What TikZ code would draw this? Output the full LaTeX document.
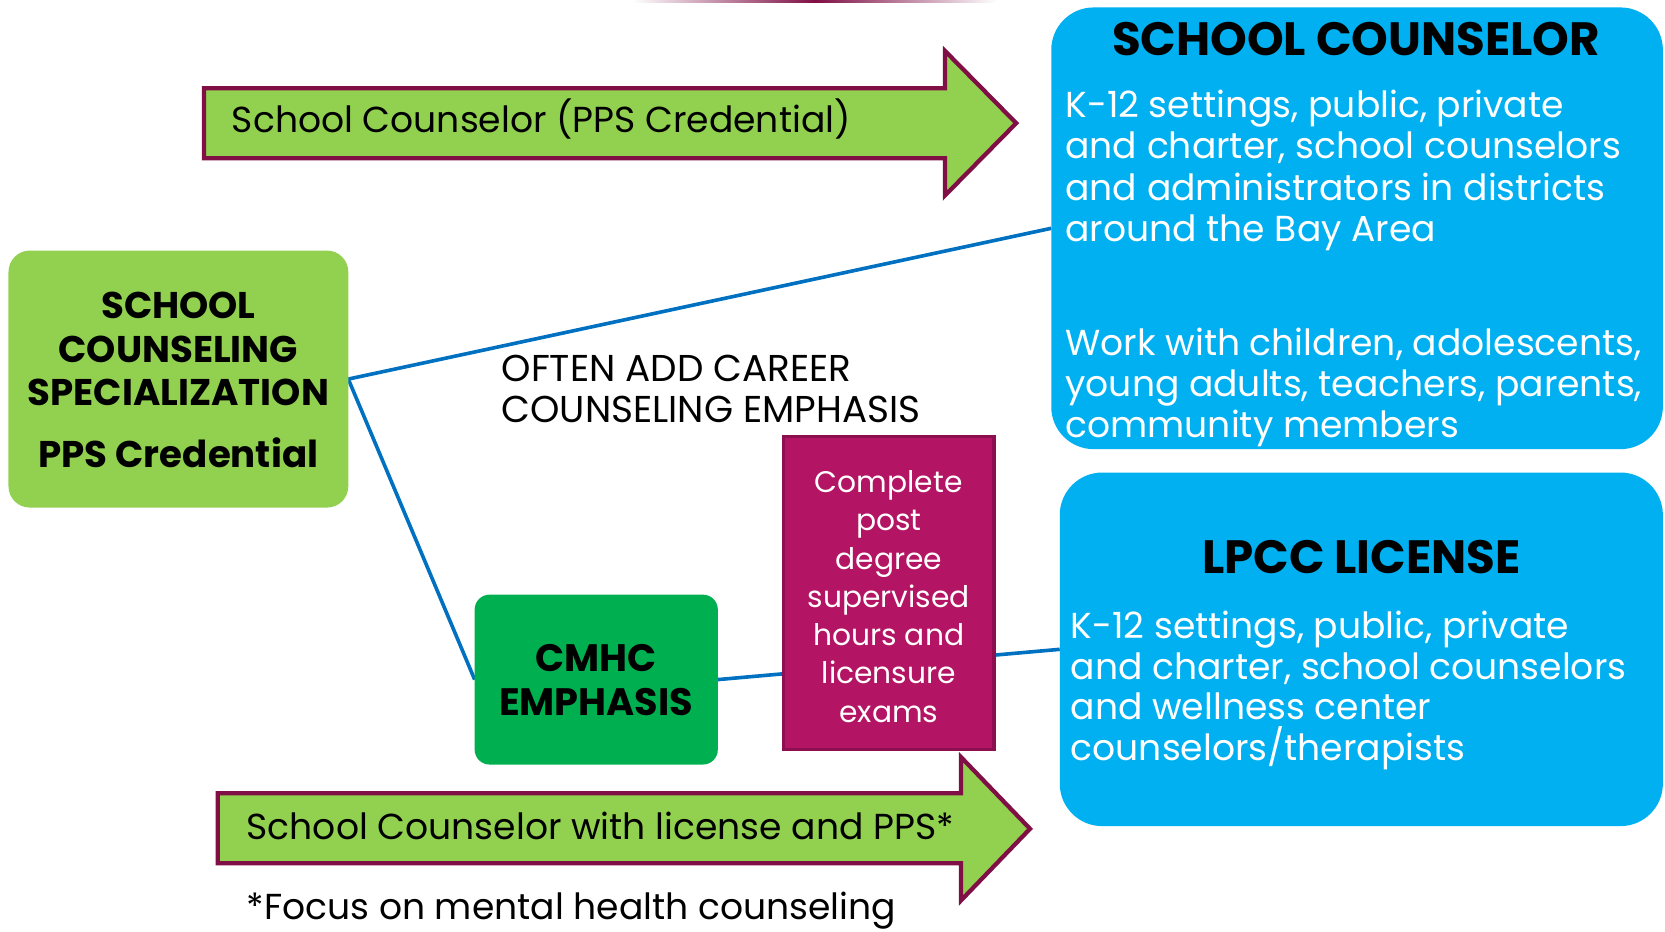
\documentclass[tikz,border=0pt]{standalone}
\usepackage{fontspec}
\setmainfont{Poppins}
\usetikzlibrary{calc}
\definecolor{lgreen}{HTML}{92D050}
\definecolor{dgreen}{HTML}{00B050}
\definecolor{sky}{HTML}{00B0F0}
\definecolor{mag}{HTML}{B41464}
\definecolor{magdark}{HTML}{8E0F4F}
\definecolor{maroon}{HTML}{7F0F45}
\definecolor{lineblue}{HTML}{0070C0}
\pgfdeclarelayer{bg}
\pgfsetlayers{bg,main}
\begin{document}
\begin{tikzpicture}[x=0.5pt,y=-0.5pt,
  box/.style={inner sep=0pt, outer sep=0pt},
  conn/.style={draw=lineblue, line width=1.7pt},
  bigarrow/.style={fill=lgreen, draw=maroon, line width=2pt},
  bodytxt/.style={anchor=base west, inner sep=0pt, text=white, font=\fontsize{17}{20}\selectfont},
  arrtxt/.style={anchor=base west, inner sep=0pt, font=\fontsize{17}{20}\selectfont},
  headtxt/.style={anchor=base, inner sep=0pt, font=\bfseries\fontsize{22}{26}\selectfont},
  lefttxt/.style={anchor=base, inner sep=0pt, font=\bfseries\fontsize{17.5}{21}\selectfont},
  magtxt/.style={anchor=base, inner sep=0pt, text=white, font=\fontsize{14}{17}\selectfont}
]
\useasboundingbox (0,0) rectangle (1568,877);

% top fading line
\shade[left color=white, right color=white, middle color=maroon] (596,0) rectangle (939,2.5);

% boxes
\node[box, fill=lgreen, rounded corners=10pt, minimum width=160pt, minimum height=121pt] (left) at (168,357) {};
\node[box, fill=sky, rounded corners=20pt, minimum width=288pt, minimum height=208pt] (sc) at (1278,215) {};
\node[box, fill=sky, rounded corners=20pt, minimum width=284pt, minimum height=166.5pt] (lpcc) at (1282,611.5) {};
\node[box, fill=dgreen, rounded corners=7pt, minimum width=114.5pt, minimum height=80pt] (cmhc) at (561.5,640) {};
\node[box, fill=mag, draw=magdark, line width=1.5pt, minimum width=99pt, minimum height=147.5pt] (mbox) at (837,558.5) {};

% connectors
\begin{pgfonlayer}{bg}
\draw[conn] (left.east) -- (sc.west);
\draw[conn] (left.east) -- (cmhc.west);
\draw[conn] (cmhc.east) -- (lpcc.west);
\end{pgfonlayer}

% big arrows
\draw[bigarrow] (192,83) -- (890,83) -- (890,48) -- (957,116) -- (890,184) -- (890,149) -- (192,149) -- cycle;
\draw[bigarrow] (205,747) -- (905,747) -- (905,713) -- (970,780.5) -- (905,848) -- (905,813) -- (205,813) -- cycle;
\node[arrtxt] (a1) at (218,125) {School Counselor (PPS Credential)};
\node[arrtxt] (a2) at (232,791) {School Counselor with license and PPS*};
\node[arrtxt] (foot) at (232,866) {*Focus on mental health counseling};

% left box text
\node[lefttxt] (l1) at (168,300) {SCHOOL};
\node[lefttxt] (l2) at (168,341) {COUNSELING};
\node[lefttxt] (l3) at (168,382) {SPECIALIZATION};
\node[lefttxt] (l4) at (168,440) {PPS Credential};

% career text
\node[arrtxt, font=\fontsize{17.6}{20}\selectfont] (c1) at (472,359) {OFTEN ADD CAREER};
\node[arrtxt, font=\fontsize{17.6}{20}\selectfont] (c2) at (472,398) {COUNSELING EMPHASIS};

% CMHC
\node[lefttxt, font=\bfseries\fontsize{18}{21}\selectfont] (m1) at (561.5,632) {CMHC};
\node[lefttxt, font=\bfseries\fontsize{18}{21}\selectfont] (m2) at (561.5,674) {EMPHASIS};

% magenta box text
\foreach \t [count=\i] in {Complete,post,degree,supervised,hours and,licensure,exams}{
  \node[magtxt] (mt\i) at (837,{428+36*\i}) {\t};
}

% school counselor box
\node[headtxt] (sch) at (1277,52) {SCHOOL COUNSELOR};
\foreach \t [count=\i] in {{K-12 settings, public, private},{and charter, school counselors},{and administrators in districts},{around the Bay Area}}{
  \node[bodytxt] (sa\i) at (1003,{72.3+38.7*\i}) {\t};
}
\foreach \t [count=\i] in {{Work with children, adolescents,},{young adults, teachers, parents,},{community members}}{
  \node[bodytxt] (sb\i) at (1003,{296.5+38.5*\i}) {\t};
}

% LPCC box
\node[headtxt] (lph) at (1282,540) {LPCC LICENSE};
\foreach \t [count=\i] in {{K-12 settings, public, private},{and charter, school counselors},{and wellness center},{counselors/therapists}}{
  \node[bodytxt] (la\i) at (1008,{562.5+38.5*\i}) {\t};
}
\end{tikzpicture}
\end{document}
